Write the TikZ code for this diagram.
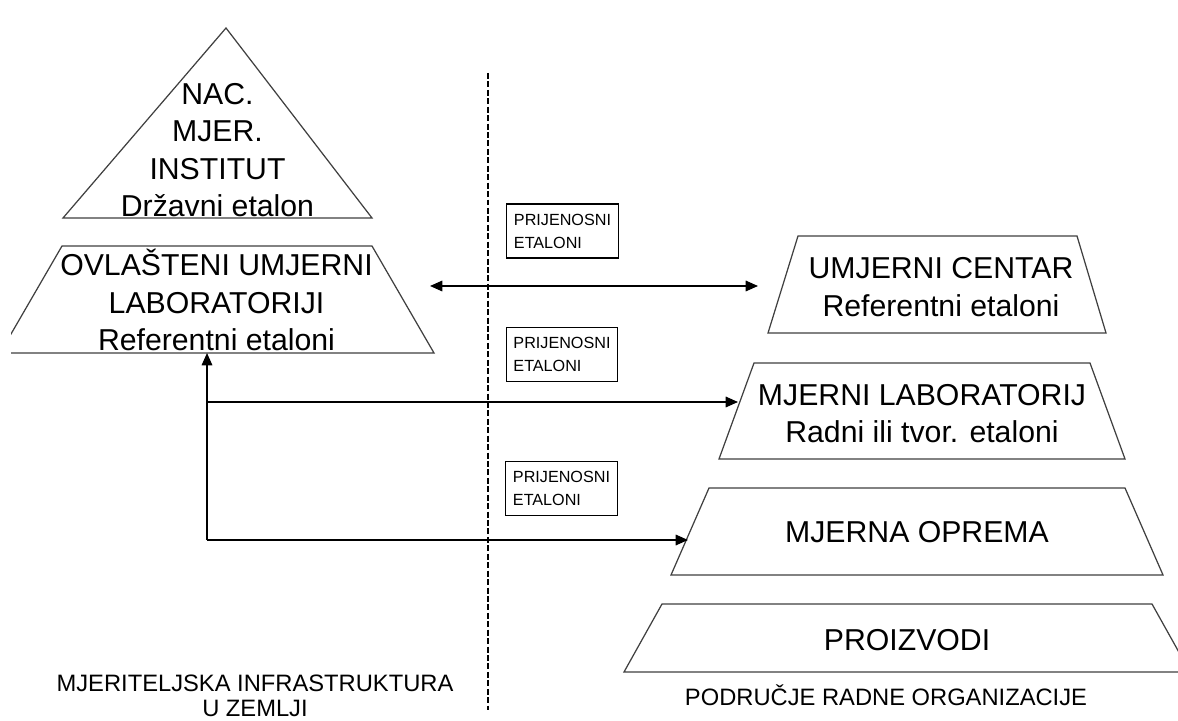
\documentclass[tikz,border=0pt]{standalone}
\usepackage{fontspec}
\setmainfont{Liberation Sans}
\usetikzlibrary{arrows.meta}

\tikzset{
	bigtext/.style={align=center,font=\fontsize{17.2}{21.3}\selectfont,inner sep=0pt},
	foottext/.style={align=center,font=\fontsize{13.5}{14.2}\selectfont,inner sep=0pt},
	etalonbox/.style={draw,line width=0.6pt,align=left,font=\fontsize{9.2}{13.1}\selectfont,minimum width=2.22cm,minimum height=1.08cm,inner xsep=4pt},
	tier/.style={draw=black!75,line width=0.7pt},
	flow/.style={line width=0.9pt},
	>={Triangle[length=7pt,width=6pt]}
}

\begin{document}
\begin{tikzpicture}
				\useasboundingbox (0,0) rectangle (23.56,14.4);
				\fill[white] (0,0) rectangle (23.56,14.4);
				\draw[tier] (1.26,10.04) -- (4.52,13.84) -- (7.44,10.04) -- cycle;
				\begin{scope}
					\clip (0.22,0) rectangle (23.56,14.4);
					\draw[tier] (1.24,9.48) -- (7.44,9.48) -- (8.68,7.34) -- (0,7.34) -- cycle;
				\end{scope}
				\draw[tier] (15.96,9.68) -- (21.54,9.68) -- (22.12,7.74) -- (15.36,7.74) -- cycle;
				\draw[tier] (15.08,7.14) -- (21.80,7.14) -- (22.50,5.22) -- (14.38,5.22) -- cycle;
				\draw[tier] (14.18,4.64) -- (22.50,4.64) -- (23.26,2.90) -- (13.42,2.90) -- cycle;
				\draw[tier] (13.24,2.32) -- (23.04,2.32) -- (23.80,0.96) -- (12.48,0.96) -- cycle;
				\node[bigtext] (nmi) at (4.35,11.40) {NAC.\\MJER.\\INSTITUT\\Državni etalon};
				\node[bigtext] (ovl) at (4.33,8.40) {OVLAŠTENI UMJERNI\\LABORATORIJI\\Referentni etaloni};
				\node[bigtext] (centar) at (18.82,8.66) {UMJERNI CENTAR\\Referentni etaloni};
				\node[bigtext] (mlab) at (18.44,6.13) {MJERNI LABORATORIJ\\Radni ili tvor. etaloni};
				\node[bigtext] (oprema) at (18.34,3.76) {MJERNA OPREMA};
				\node[bigtext] (proizvodi) at (18.14,1.60) {PROIZVODI};
				\node[etalonbox] (pe1) at (11.25,9.78) {PRIJENOSNI\\ETALONI};
				\node[etalonbox] (pe2) at (11.24,7.31) {PRIJENOSNI\\ETALONI};
				\node[etalonbox] (pe3) at (11.23,4.63) {PRIJENOSNI\\ETALONI};
				\node[foottext] (infra) at (5.10,0.49) {MJERITELJSKA INFRASTRUKTURA\\U ZEMLJI};
				\node[foottext] (podrucje) at (17.72,0.50) {PODRUČJE RADNE ORGANIZACIJE};
				\coordinate (gtop) at (9.76,12.94);
				\coordinate (gbot) at (9.76,0.20);
				\coordinate (ovl-out) at (8.60,8.68);
				\coordinate (centar-in) at (15.16,8.68);
				\coordinate (ovl-base) at (4.14,7.34);
				\coordinate (split) at (4.14,6.36);
				\coordinate (corner) at (4.14,3.60);
				\coordinate (mlab-in) at (14.76,6.36);
				\coordinate (oprema-in) at (13.76,3.60);
				\draw[line width=0.6pt,dash pattern=on 3.4pt off 1.4pt] (gtop) -- (gbot);
				\draw[flow,<->] (ovl-out) -- (centar-in);
				\draw[flow,->] (corner) -- (ovl-base);
				\draw[flow,->] (split) -- (mlab-in);
				\draw[flow,->] (corner) -- (oprema-in);
			\end{tikzpicture}
\end{document}
